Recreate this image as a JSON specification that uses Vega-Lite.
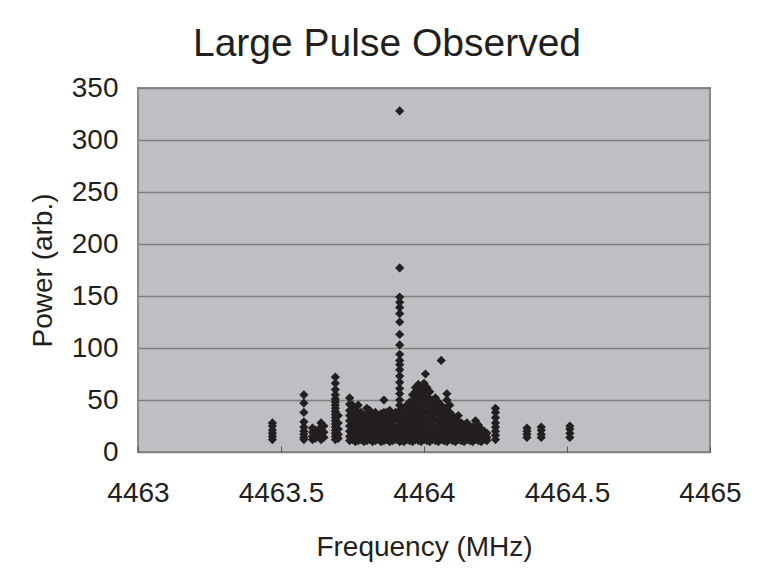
{
  "$schema": "https://vega.github.io/schema/vega-lite/v6.json",
  "autosize": {"type": "none"},
  "width": 572,
  "height": 364,
  "padding": {"left": 138, "top": 88, "right": 47, "bottom": 133},
  "background": "white",
  "title": {
    "text": "Large Pulse Observed",
    "font": "Liberation Sans",
    "fontSize": 39,
    "fontWeight": "normal",
    "color": "#231f20",
    "offset": 10,
    "dx": -37
  },
  "config": {
    "view": {"fill": "#bfbfc3", "stroke": "#8a8a8a", "strokeWidth": 2},
    "font": "Liberation Sans"
  },
  "data": {
    "values": [
      {"f":4463.47,"p":12},{"f":4463.47,"p":15},{"f":4463.47,"p":18},{"f":4463.47,"p":21},{"f":4463.47,"p":25},{"f":4463.47,"p":28},
      {"f":4463.58,"p":12},{"f":4463.58,"p":14},{"f":4463.58,"p":17},{"f":4463.58,"p":20},{"f":4463.58,"p":24},{"f":4463.58,"p":29},{"f":4463.58,"p":38},{"f":4463.58,"p":47},{"f":4463.58,"p":55},
      {"f":4463.61,"p":12},{"f":4463.61,"p":15},{"f":4463.61,"p":19},{"f":4463.61,"p":23},
      {"f":4463.62,"p":13},{"f":4463.62,"p":17},{"f":4463.62,"p":21},
      {"f":4463.64,"p":12},{"f":4463.64,"p":16},{"f":4463.64,"p":20},{"f":4463.64,"p":24},{"f":4463.64,"p":28},
      {"f":4463.65,"p":14},{"f":4463.65,"p":19},{"f":4463.65,"p":25},
      {"f":4463.69,"p":12},{"f":4463.69,"p":15},{"f":4463.69,"p":18},{"f":4463.69,"p":21},{"f":4463.69,"p":24},{"f":4463.69,"p":27},{"f":4463.69,"p":30},{"f":4463.69,"p":33},{"f":4463.69,"p":36},{"f":4463.69,"p":39},{"f":4463.69,"p":42},{"f":4463.69,"p":45},{"f":4463.69,"p":48},{"f":4463.69,"p":51},{"f":4463.69,"p":55},{"f":4463.69,"p":60},{"f":4463.69,"p":66},{"f":4463.69,"p":72},
      {"f":4463.70,"p":13},{"f":4463.70,"p":17},{"f":4463.70,"p":22},{"f":4463.70,"p":28},{"f":4463.70,"p":35},
      {"f":4463.74,"p":11},{"f":4463.74,"p":15},{"f":4463.74,"p":20},{"f":4463.74,"p":25},{"f":4463.74,"p":30},{"f":4463.74,"p":35},{"f":4463.74,"p":40},{"f":4463.74,"p":46},{"f":4463.74,"p":52},
      {"f":4463.75,"p":12},{"f":4463.75,"p":17},{"f":4463.75,"p":22},{"f":4463.75,"p":28},{"f":4463.75,"p":33},{"f":4463.75,"p":39},{"f":4463.75,"p":45},
      {"f":4463.76,"p":10},{"f":4463.76,"p":14},{"f":4463.76,"p":19},{"f":4463.76,"p":24},{"f":4463.76,"p":30},{"f":4463.76,"p":35},{"f":4463.76,"p":40},
      {"f":4463.77,"p":11},{"f":4463.77,"p":16},{"f":4463.77,"p":21},{"f":4463.77,"p":27},{"f":4463.77,"p":32},{"f":4463.77,"p":38},{"f":4463.77,"p":45},
      {"f":4463.78,"p":12},{"f":4463.78,"p":17},{"f":4463.78,"p":23},{"f":4463.78,"p":28},{"f":4463.78,"p":33},{"f":4463.78,"p":38},
      {"f":4463.79,"p":10},{"f":4463.79,"p":15},{"f":4463.79,"p":20},{"f":4463.79,"p":25},{"f":4463.79,"p":30},{"f":4463.79,"p":35},
      {"f":4463.80,"p":11},{"f":4463.80,"p":16},{"f":4463.80,"p":22},{"f":4463.80,"p":27},{"f":4463.80,"p":32},{"f":4463.80,"p":37},{"f":4463.80,"p":42},
      {"f":4463.81,"p":12},{"f":4463.81,"p":17},{"f":4463.81,"p":22},{"f":4463.81,"p":28},{"f":4463.81,"p":34},{"f":4463.81,"p":40},
      {"f":4463.82,"p":10},{"f":4463.82,"p":15},{"f":4463.82,"p":20},{"f":4463.82,"p":25},{"f":4463.82,"p":31},{"f":4463.82,"p":36},
      {"f":4463.83,"p":11},{"f":4463.83,"p":16},{"f":4463.83,"p":21},{"f":4463.83,"p":27},{"f":4463.83,"p":33},{"f":4463.83,"p":38},
      {"f":4463.84,"p":12},{"f":4463.84,"p":17},{"f":4463.84,"p":23},{"f":4463.84,"p":29},{"f":4463.84,"p":35},
      {"f":4463.85,"p":10},{"f":4463.85,"p":15},{"f":4463.85,"p":20},{"f":4463.85,"p":26},{"f":4463.85,"p":31},{"f":4463.85,"p":37},
      {"f":4463.86,"p":11},{"f":4463.86,"p":16},{"f":4463.86,"p":22},{"f":4463.86,"p":28},{"f":4463.86,"p":33},{"f":4463.86,"p":38},{"f":4463.86,"p":50},
      {"f":4463.87,"p":12},{"f":4463.87,"p":18},{"f":4463.87,"p":24},{"f":4463.87,"p":30},{"f":4463.87,"p":38},
      {"f":4463.88,"p":10},{"f":4463.88,"p":15},{"f":4463.88,"p":21},{"f":4463.88,"p":27},{"f":4463.88,"p":34},{"f":4463.88,"p":40},
      {"f":4463.89,"p":11},{"f":4463.89,"p":17},{"f":4463.89,"p":23},{"f":4463.89,"p":30},{"f":4463.89,"p":36},
      {"f":4463.90,"p":12},{"f":4463.90,"p":18},{"f":4463.90,"p":24},{"f":4463.90,"p":31},{"f":4463.90,"p":38},
      {"f":4463.915,"p":10},{"f":4463.915,"p":15},{"f":4463.915,"p":20},{"f":4463.915,"p":25},{"f":4463.915,"p":30},{"f":4463.915,"p":35},{"f":4463.915,"p":40},{"f":4463.915,"p":45},{"f":4463.915,"p":50},{"f":4463.915,"p":56},{"f":4463.915,"p":61},{"f":4463.915,"p":67},{"f":4463.915,"p":73},{"f":4463.915,"p":79},{"f":4463.915,"p":84},{"f":4463.915,"p":88},{"f":4463.915,"p":94},{"f":4463.915,"p":103},{"f":4463.915,"p":113},{"f":4463.915,"p":125},{"f":4463.915,"p":133},{"f":4463.915,"p":139},{"f":4463.915,"p":144},{"f":4463.915,"p":149},{"f":4463.915,"p":177},{"f":4463.915,"p":328},
      {"f":4463.92,"p":11},{"f":4463.92,"p":16},{"f":4463.92,"p":22},{"f":4463.92,"p":28},{"f":4463.92,"p":35},
      {"f":4463.93,"p":10},{"f":4463.93,"p":15},{"f":4463.93,"p":21},{"f":4463.93,"p":27},{"f":4463.93,"p":34},{"f":4463.93,"p":42},
      {"f":4463.94,"p":12},{"f":4463.94,"p":17},{"f":4463.94,"p":23},{"f":4463.94,"p":30},{"f":4463.94,"p":37},{"f":4463.94,"p":45},
      {"f":4463.95,"p":11},{"f":4463.95,"p":16},{"f":4463.95,"p":22},{"f":4463.95,"p":29},{"f":4463.95,"p":36},{"f":4463.95,"p":42},{"f":4463.95,"p":48},
      {"f":4463.96,"p":10},{"f":4463.96,"p":15},{"f":4463.96,"p":21},{"f":4463.96,"p":27},{"f":4463.96,"p":34},{"f":4463.96,"p":41},{"f":4463.96,"p":48},{"f":4463.96,"p":55},
      {"f":4463.97,"p":12},{"f":4463.97,"p":18},{"f":4463.97,"p":24},{"f":4463.97,"p":31},{"f":4463.97,"p":38},{"f":4463.97,"p":45},{"f":4463.97,"p":52},{"f":4463.97,"p":58},{"f":4463.97,"p":62},
      {"f":4463.98,"p":11},{"f":4463.98,"p":17},{"f":4463.98,"p":23},{"f":4463.98,"p":30},{"f":4463.98,"p":37},{"f":4463.98,"p":44},{"f":4463.98,"p":51},{"f":4463.98,"p":58},{"f":4463.98,"p":65},
      {"f":4463.99,"p":10},{"f":4463.99,"p":16},{"f":4463.99,"p":22},{"f":4463.99,"p":29},{"f":4463.99,"p":36},{"f":4463.99,"p":43},{"f":4463.99,"p":50},{"f":4463.99,"p":55},{"f":4463.99,"p":60},
      {"f":4464.00,"p":12},{"f":4464.00,"p":18},{"f":4464.00,"p":25},{"f":4464.00,"p":32},{"f":4464.00,"p":39},{"f":4464.00,"p":46},{"f":4464.00,"p":53},{"f":4464.00,"p":60},{"f":4464.00,"p":66},
      {"f":4464.005,"p":75},
      {"f":4464.01,"p":11},{"f":4464.01,"p":17},{"f":4464.01,"p":24},{"f":4464.01,"p":31},{"f":4464.01,"p":38},{"f":4464.01,"p":45},{"f":4464.01,"p":52},{"f":4464.01,"p":58},{"f":4464.01,"p":62},
      {"f":4464.02,"p":10},{"f":4464.02,"p":16},{"f":4464.02,"p":23},{"f":4464.02,"p":30},{"f":4464.02,"p":37},{"f":4464.02,"p":44},{"f":4464.02,"p":51},{"f":4464.02,"p":58},
      {"f":4464.03,"p":12},{"f":4464.03,"p":18},{"f":4464.03,"p":25},{"f":4464.03,"p":32},{"f":4464.03,"p":39},{"f":4464.03,"p":45},{"f":4464.03,"p":50},
      {"f":4464.04,"p":11},{"f":4464.04,"p":17},{"f":4464.04,"p":24},{"f":4464.04,"p":31},{"f":4464.04,"p":38},{"f":4464.04,"p":45},{"f":4464.04,"p":52},
      {"f":4464.05,"p":10},{"f":4464.05,"p":16},{"f":4464.05,"p":23},{"f":4464.05,"p":30},{"f":4464.05,"p":37},{"f":4464.05,"p":43},{"f":4464.05,"p":48},
      {"f":4464.06,"p":12},{"f":4464.06,"p":18},{"f":4464.06,"p":25},{"f":4464.06,"p":32},{"f":4464.06,"p":38},{"f":4464.06,"p":45},{"f":4464.06,"p":88},
      {"f":4464.07,"p":11},{"f":4464.07,"p":17},{"f":4464.07,"p":23},{"f":4464.07,"p":30},{"f":4464.07,"p":36},{"f":4464.07,"p":42},
      {"f":4464.08,"p":10},{"f":4464.08,"p":16},{"f":4464.08,"p":22},{"f":4464.08,"p":29},{"f":4464.08,"p":36},{"f":4464.08,"p":43},{"f":4464.08,"p":50},{"f":4464.08,"p":56},
      {"f":4464.09,"p":12},{"f":4464.09,"p":18},{"f":4464.09,"p":24},{"f":4464.09,"p":31},{"f":4464.09,"p":38},{"f":4464.09,"p":45},
      {"f":4464.10,"p":11},{"f":4464.10,"p":16},{"f":4464.10,"p":22},{"f":4464.10,"p":28},{"f":4464.10,"p":35},
      {"f":4464.11,"p":10},{"f":4464.11,"p":15},{"f":4464.11,"p":20},{"f":4464.11,"p":25},{"f":4464.11,"p":30},
      {"f":4464.12,"p":12},{"f":4464.12,"p":17},{"f":4464.12,"p":23},{"f":4464.12,"p":29},{"f":4464.12,"p":35},
      {"f":4464.13,"p":11},{"f":4464.13,"p":16},{"f":4464.13,"p":22},{"f":4464.13,"p":28},
      {"f":4464.14,"p":10},{"f":4464.14,"p":15},{"f":4464.14,"p":20},{"f":4464.14,"p":26},
      {"f":4464.15,"p":12},{"f":4464.15,"p":17},{"f":4464.15,"p":23},{"f":4464.15,"p":28},
      {"f":4464.16,"p":11},{"f":4464.16,"p":16},{"f":4464.16,"p":21},{"f":4464.16,"p":25},
      {"f":4464.17,"p":10},{"f":4464.17,"p":14},{"f":4464.17,"p":19},{"f":4464.17,"p":24},
      {"f":4464.18,"p":12},{"f":4464.18,"p":17},{"f":4464.18,"p":23},{"f":4464.18,"p":30},
      {"f":4464.19,"p":11},{"f":4464.19,"p":16},{"f":4464.19,"p":21},{"f":4464.19,"p":26},
      {"f":4464.20,"p":10},{"f":4464.20,"p":14},{"f":4464.20,"p":18},{"f":4464.20,"p":22},
      {"f":4464.21,"p":12},{"f":4464.21,"p":16},{"f":4464.21,"p":20},
      {"f":4464.22,"p":11},{"f":4464.22,"p":14},{"f":4464.22,"p":18},
      {"f":4464.25,"p":12},{"f":4464.25,"p":16},{"f":4464.25,"p":20},{"f":4464.25,"p":24},{"f":4464.25,"p":28},{"f":4464.25,"p":33},{"f":4464.25,"p":38},{"f":4464.25,"p":42},
      {"f":4464.36,"p":14},{"f":4464.36,"p":17},{"f":4464.36,"p":20},{"f":4464.36,"p":23},
      {"f":4464.41,"p":14},{"f":4464.41,"p":17},{"f":4464.41,"p":21},{"f":4464.41,"p":24},
      {"f":4464.51,"p":14},{"f":4464.51,"p":18},{"f":4464.51,"p":22},{"f":4464.51,"p":25}
    ]
  },
  "mark": {"type": "point", "shape": "diamond", "filled": true, "size": 85, "color": "#231f20", "opacity": 1},
  "encoding": {
    "x": {
      "field": "f",
      "type": "quantitative",
      "title": "Frequency (MHz)",
      "scale": {"domain": [4463, 4465], "nice": false, "zero": false},
      "axis": {
        "values": [4463, 4463.5, 4464, 4464.5, 4465],
        "format": "~f",
        "grid": false,
        "domain": false,
        "ticks": true,
        "tickSize": -6,
        "tickColor": "#555555",
        "tickWidth": 1,
        "labelFont": "Liberation Sans",
        "labelFontSize": 28,
        "labelColor": "#231f20",
        "labelPadding": 33,
        "labelFlush": false,
        "titleFont": "Liberation Sans",
        "titleFontSize": 28,
        "titleFontWeight": "normal",
        "titleColor": "#231f20",
        "titlePadding": 26
      }
    },
    "y": {
      "field": "p",
      "type": "quantitative",
      "title": "Power (arb.)",
      "scale": {"domain": [0, 350], "nice": false},
      "axis": {
        "values": [0, 50, 100, 150, 200, 250, 300, 350],
        "grid": true,
        "gridColor": "#7f7f7f",
        "gridWidth": 1.5,
        "domain": false,
        "ticks": false,
        "labelFont": "Liberation Sans",
        "labelFontSize": 28,
        "labelColor": "#231f20",
        "labelPadding": 20,
        "labelFlush": false,
        "titleFont": "Liberation Sans",
        "titleFontSize": 28,
        "titleFontWeight": "normal",
        "titleColor": "#231f20",
        "titlePadding": 14
      }
    }
  }
}
